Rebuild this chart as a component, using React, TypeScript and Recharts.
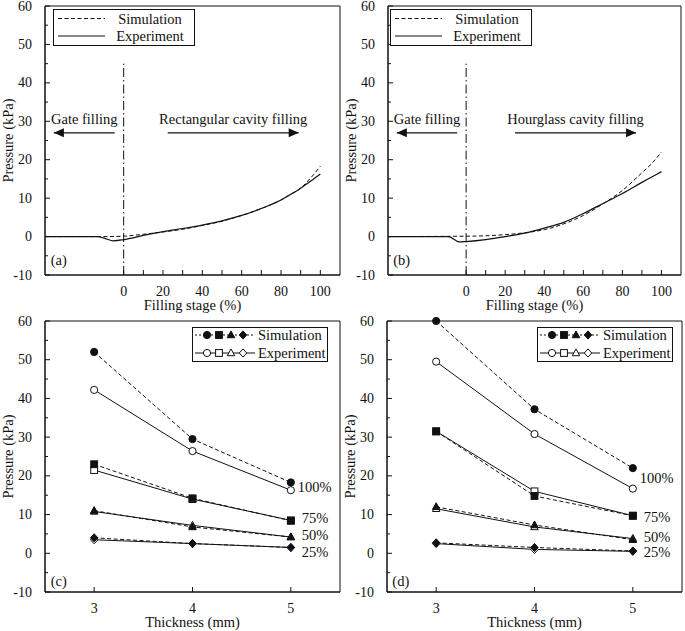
import React from 'react';
import { LineChart, Line, XAxis, YAxis, ReferenceLine, ReferenceArea, ReferenceDot, Legend } from 'recharts';

const FONT = '"Liberation Serif", "Times New Roman", serif';
const INK = '#111';

// (a) rectangular cavity - pressure vs filling stage
const rectSimStage = [-40, -10, 0, 10, 20, 30, 40, 50, 60, 70, 80, 85, 90, 95, 100];
const rectSimKPa = [0, 0, 0.1, 0.6, 1.2, 1.9, 2.9, 4.0, 5.5, 7.3, 9.5, 11, 12.6, 15.2, 18.3];
const rectExpStage = [-40, -13, -10, -5, 0, 10, 20, 30, 40, 50, 60, 70, 80, 85, 90, 95, 100];
const rectExpKPa = [0, 0, -0.4, -1.1, -0.8, 0.3, 1.3, 2.1, 3.0, 4.1, 5.5, 7.3, 9.5, 11, 12.6, 14.4, 16.3];

// (b) hourglass cavity
const hourSimStage = [-40, 0, 10, 20, 30, 40, 50, 60, 70, 80, 90, 95, 100];
const hourSimKPa = [0, 0.1, 0.2, 0.5, 1.0, 1.8, 3.3, 5.5, 8.5, 12, 16.6, 19, 22];
const hourExpStage = [-40, -9, -3.5, 0, 10, 20, 30, 40, 50, 60, 70, 80, 90, 95, 100];
const hourExpKPa = [0, 0, -1.4, -1.3, -0.8, 0, 0.9, 2.2, 3.7, 6, 8.6, 11.2, 14.1, 15.5, 16.9];

const stageTicks = [0, 10, 20, 30, 40, 50, 60, 70, 80, 90, 100];
const pressureTicks = [-10, -5, 0, 5, 10, 15, 20, 25, 30, 35, 40, 45, 50, 55, 60];

// (c), (d) pressure vs thickness, one row per fill level
const thickness = [3, 4, 5];
const fillLevels = ['100%', '75%', '50%', '25%'];
const markerShapes = ['circle', 'square', 'triangle', 'diamond'];
const rectSimByLevel = [[52, 29.5, 18.3], [23, 14.2, 8.4], [11, 6.8, 4.2], [4, 2.5, 1.5]];
const rectExpByLevel = [[42.2, 26.4, 16.3], [21.5, 14, 8.5], [10.8, 7.2, 4.2], [3.5, 2.5, 1.5]];
const hourSimByLevel = [[60, 37.2, 22], [31.5, 14.8, 9.7], [12, 7.3, 3.5], [2.7, 1.5, 0.6]];
const hourExpByLevel = [[49.5, 30.8, 16.7], [31.5, 16, 9.7], [11.5, 6.8, 3.8], [2.5, 1, 0.5]];
const rectLevelLabelY = [17.1, 9.1, 4.7, 0.3];
const hourLevelLabelY = [19.4, 9.3, 4.2, 0.3];

const toPoints = (xs: number[], ys: number[]) => xs.map((x, i) => ({ x, y: ys[i] }));

const toRows = (sim: number[][], exp: number[][]) =>
  thickness.map((t, i) => {
    const row: any = { t };
    fillLevels.forEach((_, k) => {
      row['s' + k] = sim[k][i];
      row['e' + k] = exp[k][i];
    });
    return row;
  });

const Y_GAP = 13;
const X_GAP = 16;
const TITLE_GAP = 30;

function YTick({ x, y, payload }: any) {
  const axisX = x + Y_GAP;
  const major = payload.value % 10 === 0;
  return (
    <g>
      <line x1={axisX} x2={axisX + (major ? 5 : 3)} y1={y} y2={y} stroke={INK} />
      {major && (
        <text x={x} y={y} textAnchor="end" dominantBaseline="central" fontSize={14} fontFamily={FONT} fill={INK}>
          {payload.value}
        </text>
      )}
    </g>
  );
}

function XTick({ x, y, payload, every }: any) {
  const v = payload.value;
  return (
    <g>
      <line x1={x} x2={x} y1={y} y2={y - 5} stroke={INK} />
      {v % every === 0 && (
        <text x={x} y={y + X_GAP} textAnchor="middle" dominantBaseline="central" fontSize={14} fontFamily={FONT} fill={INK}>
          {v}
        </text>
      )}
    </g>
  );
}

const yTitle = ({ viewBox }: any) => {
  const cx = viewBox.x + 8;
  const cy = viewBox.y + viewBox.height / 2;
  return (
    <text x={cx} y={cy} transform={`rotate(-90 ${cx} ${cy})`} textAnchor="middle" dominantBaseline="central" fontSize={14.5} fontFamily={FONT} fill={INK}>
      Pressure (kPa)
    </text>
  );
};

const xTitle = (title: string) => ({ viewBox }: any) => (
  <text x={viewBox.x + viewBox.width / 2} y={viewBox.y + TITLE_GAP} textAnchor="middle" dominantBaseline="central" fontSize={14.5} fontFamily={FONT} fill={INK}>
    {title}
  </text>
);

const arrow = (text: string, head: 'left' | 'right') => (props: any) => {
  const { x1, y1, x2, y2 } = props;
  const left = Math.min(x1, x2);
  const right = Math.max(x1, x2);
  const tip = head === 'left' ? left : right;
  const dir = head === 'left' ? 1 : -1;
  return (
    <g>
      <line x1={left} x2={right} y1={y1} y2={y2} stroke={INK} strokeWidth={1.3} />
      <polygon points={`${tip},${y1} ${tip + dir * 10},${y1 - 4.5} ${tip + dir * 10},${y1 + 4.5}`} fill={INK} />
      <text x={(left + right) / 2} y={y1 - 14} textAnchor="middle" dominantBaseline="central" fontSize={14.5} fontFamily={FONT} fill={INK}>
        {text}
      </text>
    </g>
  );
};

function Marker({ cx, cy, shape, filled }: any) {
  const s = 3.4;
  const p = { fill: filled ? INK : '#fff', stroke: INK, strokeWidth: 1 };
  if (shape === 'circle') return <circle cx={cx} cy={cy} r={s + 0.2} {...p} />;
  if (shape === 'square') return <rect x={cx - s} y={cy - s} width={2 * s} height={2 * s} {...p} />;
  if (shape === 'triangle')
    return <polygon points={`${cx},${cy - s * 1.2} ${cx + s * 1.1},${cy + s * 0.8} ${cx - s * 1.1},${cy + s * 0.8}`} {...p} />;
  return <polygon points={`${cx},${cy - s * 1.2} ${cx + s * 1.1},${cy} ${cx},${cy + s * 1.2} ${cx - s * 1.1},${cy}`} {...p} />;
}

function StageLegend() {
  return (
    <svg width={142} height={37} style={{ display: 'block' }}>
      <rect x={0.5} y={0.5} width={141} height={36} fill="#fff" stroke={INK} />
      <line x1={5} x2={52} y1={9.5} y2={9.5} stroke={INK} strokeDasharray="4 2.5" />
      <line x1={5} x2={52} y1={27} y2={27} stroke={INK} />
      <text x={97} y={9.5} textAnchor="middle" dominantBaseline="central" fontSize={14.5} fontFamily={FONT} fill={INK}>Simulation</text>
      <text x={97} y={27} textAnchor="middle" dominantBaseline="central" fontSize={14.5} fontFamily={FONT} fill={INK}>Experiment</text>
    </svg>
  );
}

function ThicknessLegend() {
  const rows = [
    { name: 'Simulation', filled: true, dash: '2 2', y: 8 },
    { name: 'Experiment', filled: false, dash: undefined, y: 26 },
  ];
  return (
    <svg width={136} height={35} style={{ display: 'block' }}>
      <rect x={0.5} y={0.5} width={135} height={34} fill="#fff" stroke={INK} />
      {rows.map((r) => (
        <g key={r.name}>
          <line x1={3} x2={63} y1={r.y} y2={r.y} stroke={INK} strokeDasharray={r.dash} />
          {markerShapes.map((sh, k) => (
            <Marker key={sh} cx={15 + 12 * k} cy={r.y} shape={sh} filled={r.filled} />
          ))}
          <text x={66} y={r.y} dominantBaseline="central" fontSize={14.5} fontFamily={FONT} fill={INK}>{r.name}</text>
        </g>
      ))}
    </svg>
  );
}

function StagePanel({ sim, exp, tag, cavityText, cavityArrow, legendLeft, width, right }: any) {
  return (
    <LineChart width={width} height={315} margin={{ top: 6, right, left: 0, bottom: 0 }}>
      <XAxis type="number" dataKey="x" domain={[-40, 110]} ticks={stageTicks} interval={0} tickSize={0} tickMargin={0}
        tickLine={false} axisLine={{ stroke: INK }} tick={(p: any) => <XTick {...p} every={20} />} height={40} label={xTitle('Filling stage (%)')} />
      <YAxis type="number" domain={[-10, 60]} ticks={pressureTicks} interval={0} tickSize={0} tickMargin={Y_GAP}
        tickLine={false} axisLine={{ stroke: INK }} tick={(p: any) => <YTick {...p} />} width={45} label={yTitle} />
      <ReferenceArea x1={-40} x2={110} y1={-10} y2={60} fill="none" stroke={INK} ifOverflow="visible" />
      <ReferenceLine segment={[{ x: -40, y: -10 }, { x: 0, y: -10 }]} stroke="#9a9a9a" strokeWidth={1.5} ifOverflow="visible" />
      <ReferenceLine segment={[{ x: 0, y: -10 }, { x: 0, y: 45 }]} stroke={INK} strokeDasharray="9 3 1.5 3" />
      <ReferenceLine segment={[{ x: -35.5, y: 27 }, { x: -4.6, y: 27 }]} shape={arrow('Gate filling', 'left')} />
      <ReferenceLine segment={[{ x: cavityArrow[0], y: 27 }, { x: cavityArrow[1], y: 27 }]} shape={arrow(cavityText, 'right')} />
      <ReferenceDot x={-33} y={-6} r={0} fill="none" stroke="none"
        label={{ value: tag, position: 'center', fontSize: 14.5, fontFamily: FONT, fill: INK }} />
      <Line data={sim} dataKey="y" name="Simulation" type="monotone" stroke={INK} strokeWidth={1} strokeDasharray="4 2.5" dot={false} isAnimationActive={false} />
      <Line data={exp} dataKey="y" name="Experiment" type="monotone" stroke={INK} strokeWidth={1.2} dot={false} isAnimationActive={false} />
      <Legend layout="vertical" align="center" verticalAlign="middle" content={() => <StageLegend />}
        wrapperStyle={{ position: 'absolute', left: legendLeft, top: 9, width: 142, height: 37 }} />
    </LineChart>
  );
}

function ThicknessPanel({ rows, labelY, tag, legendLeft, width, right }: any) {
  return (
    <LineChart width={width} height={316} data={rows} margin={{ top: 6, right, left: 0, bottom: 0 }}>
      <XAxis type="number" dataKey="t" domain={[2.5, 5.5]} ticks={thickness} interval={0} tickSize={0} tickMargin={0}
        tickLine={false} axisLine={{ stroke: INK }} tick={(p: any) => <XTick {...p} every={1} />} height={39} label={xTitle('Thickness (mm)')} />
      <YAxis type="number" domain={[-10, 60]} ticks={pressureTicks} interval={0} tickSize={0} tickMargin={Y_GAP}
        tickLine={false} axisLine={{ stroke: INK }} tick={(p: any) => <YTick {...p} />} width={45} label={yTitle} />
      <ReferenceArea x1={2.5} x2={5.5} y1={-10} y2={60} fill="none" stroke={INK} ifOverflow="visible" />
      <ReferenceDot x={2.64} y={-7} r={0} fill="none" stroke="none"
        label={{ value: tag, position: 'center', fontSize: 14.5, fontFamily: FONT, fill: INK }} />
      {fillLevels.map((lvl, k) => (
        <Line key={'e' + k} dataKey={'e' + k} name={'Experiment ' + lvl} type="linear" stroke={INK} strokeWidth={1}
          dot={(p: any) => <Marker key={`e${k}-${p.index}`} cx={p.cx} cy={p.cy} shape={markerShapes[k]} filled={false} />} isAnimationActive={false} />
      ))}
      {fillLevels.map((lvl, k) => (
        <Line key={'s' + k} dataKey={'s' + k} name={'Simulation ' + lvl} type="linear" stroke={INK} strokeWidth={1} strokeDasharray="4 2.5"
          dot={(p: any) => <Marker key={`s${k}-${p.index}`} cx={p.cx} cy={p.cy} shape={markerShapes[k]} filled />} isAnimationActive={false} />
      ))}
      {fillLevels.map((lvl, k) => (
        <ReferenceDot key={lvl} x={5} y={labelY[k]} r={0} fill="none" stroke="none" ifOverflow="visible"
          label={{ value: lvl, position: 'right', offset: k === 0 ? 7 : 11, fontSize: 14.5, fontFamily: FONT, fill: INK }} />
      ))}
      <Legend layout="vertical" align="center" verticalAlign="middle" content={() => <ThicknessLegend />}
        wrapperStyle={{ position: 'absolute', left: legendLeft, top: 12, width: 136, height: 35 }} />
    </LineChart>
  );
}

export default function App() {
  const rectSim = toPoints(rectSimStage, rectSimKPa);
  const rectExp = toPoints(rectExpStage, rectExpKPa);
  const hourSim = toPoints(hourSimStage, hourSimKPa);
  const hourExp = toPoints(hourExpStage, hourExpKPa);
  return (
    <div style={{ position: 'absolute', left: 0, top: 0, width: 685, height: 631, background: '#fff', fontFamily: FONT }}>
      <div style={{ position: 'absolute', left: 0, top: 0 }}>
        <StagePanel sim={rectSim} exp={rectExp} tag="(a)" cavityText="Rectangular cavity filling" cavityArrow={[22.4, 89]}
          legendLeft={53} width={345} right={5} />
      </div>
      <div style={{ position: 'absolute', left: 343, top: 0 }}>
        <StagePanel sim={hourSim} exp={hourExp} tag="(b)" cavityText="Hourglass cavity filling" cavityArrow={[25, 87]}
          legendLeft={47} width={342} right={4} />
      </div>
      <div style={{ position: 'absolute', left: 0, top: 315 }}>
        <ThicknessPanel rows={toRows(rectSimByLevel, rectExpByLevel)} labelY={rectLevelLabelY} tag="(c)" legendLeft={192} width={345} right={5} />
      </div>
      <div style={{ position: 'absolute', left: 342, top: 315 }}>
        <ThicknessPanel rows={toRows(hourSimByLevel, hourExpByLevel)} labelY={hourLevelLabelY} tag="(d)" legendLeft={195} width={343} right={3} />
      </div>
    </div>
  );
}
